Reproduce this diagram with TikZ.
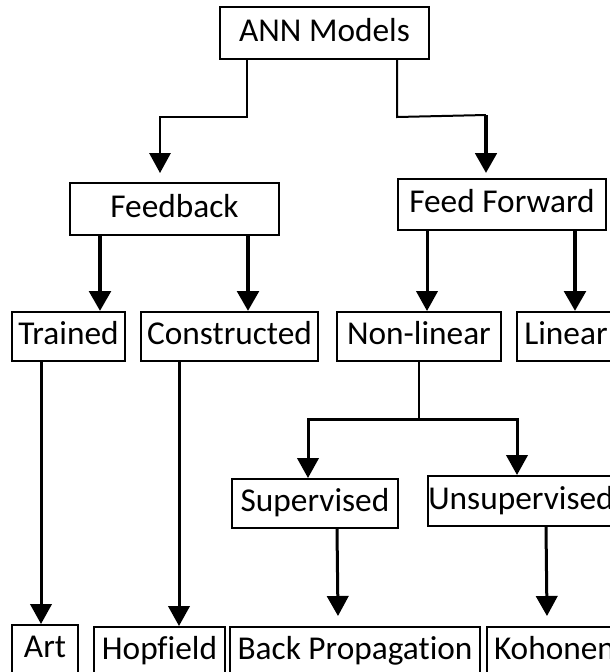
\documentclass[tikz,border=0pt]{standalone}
\usepackage{fontspec}
\setmainfont{Carlito}[Ligatures=NoCommon]
\usetikzlibrary{arrows.meta}

\begin{document}
\begin{tikzpicture}[x=0.75pt, y=-0.75pt,
      model-box/.style={rectangle, draw, line width=1.5pt, inner sep=0pt,
        font=\fontsize{25}{29}\selectfont, text height=18pt, text depth=6pt},
      box-size/.style 2 args={minimum width=#1*0.75pt, minimum height=#2*0.75pt},
      link-line/.style={line width=1.5pt},
      link-arrow/.style={line width=2.25pt, -{Triangle[length=15pt, width=16pt]}},
      link-arrow-bold/.style={link-arrow, line width=3.4pt}
    ]
      \useasboundingbox (0,0) rectangle (610,672);
      \clip (0,0) rectangle (610,672);

      \node[model-box, box-size={209}{52}] (ann) at (324.5,33) {ANN Models};
      \node[model-box, box-size={209}{52}] (fb) at (174.5,209) {Feedback};
      \node[model-box, box-size={208}{51}] (ff) at (502,204.5) {Feed Forward};
      \node[model-box, box-size={113}{49}] (trained) at (68.5,336.5) {Trained};
      \node[model-box, box-size={177}{49}] (constr) at (229.5,336.5) {Constructed};
      \node[model-box, box-size={164}{49}] (nonlin) at (419,336.5) {Non-linear};
      \node[model-box, box-size={98}{49}] (linear) at (566,336.5) {Linear};
      \node[model-box, box-size={166}{49}] (sup) at (315,503.5) {Supervised};
      \node[model-box, box-size={186}{50}] (unsup) at (521,501) {Unsupervised};
      \node[model-box, box-size={66}{49}] (art) at (45,649.5) {Art};
      \node[model-box, box-size={131}{49}] (hopf) at (159.5,651.5) {Hopfield};
      \node[model-box, box-size={250}{49}] (bp) at (355,651.5) {Back Propagation};
      \node[model-box, box-size={135}{49}] (koh) at (554.5,651.5) {Kohonen};

      \coordinate (fbin) at ([shift={(-14.5,-9)}]fb.north);
      \coordinate (ffin) at ([shift={(-16,-5)}]ff.north);
      \coordinate (ffbend) at ([shift={(0,-58)}]ffin);
      \coordinate (split) at ([shift={(0,57)}]nonlin.south);
      \coordinate (bpin) at ([shift={(-17,-10)}]bp.north);
      \coordinate (kohin) at ([shift={(-7.5,-10)}]koh.north);

      \draw[link-arrow, line width=1.5pt] ([shift={(28,0)}]ann.south west) -- ++(0,57) -| (fbin);
      \draw[link-line] ([shift={(178,0)}]ann.south west) -- ++(0,57) -- (ffbend);
      \draw[link-arrow, line width=3pt] (ffbend) -- (ffin);

      \draw[link-arrow-bold] ([shift={(31,0)}]fb.south west) coordinate (fb1) -- (fb1 |- trained.north);
      \draw[link-arrow-bold] ([shift={(179,0)}]fb.south west) coordinate (fb2) -- (fb2 |- constr.north);
      \draw[link-arrow] ([shift={(30,0)}]ff.south west) coordinate (ff1) -- (ff1 |- nonlin.north);
      \draw[link-arrow-bold] ([shift={(178,0)}]ff.south west) coordinate (ff2) -- (ff2 |- linear.north);

      \draw[link-arrow] ([shift={(30,0)}]trained.south west) coordinate (tr1) -- (tr1 |- art.north);
      \draw[link-arrow] ([shift={(39,0)}]constr.south west) coordinate (co1) -- (co1 |- hopf.north);

      \draw[link-line] (nonlin.south) -- (split);
      \draw[link-arrow] (split) -| ([shift={(-7,0)}]sup.north);
      \draw[link-arrow] (split) -| ([shift={(-4,0)}]unsup.north);

      \draw[link-arrow] ([shift={(106,0)}]sup.south west) -- (bpin);
      \draw[link-arrow] ([shift={(119,0)}]unsup.south west) -- (kohin);
\end{tikzpicture}
\end{document}
